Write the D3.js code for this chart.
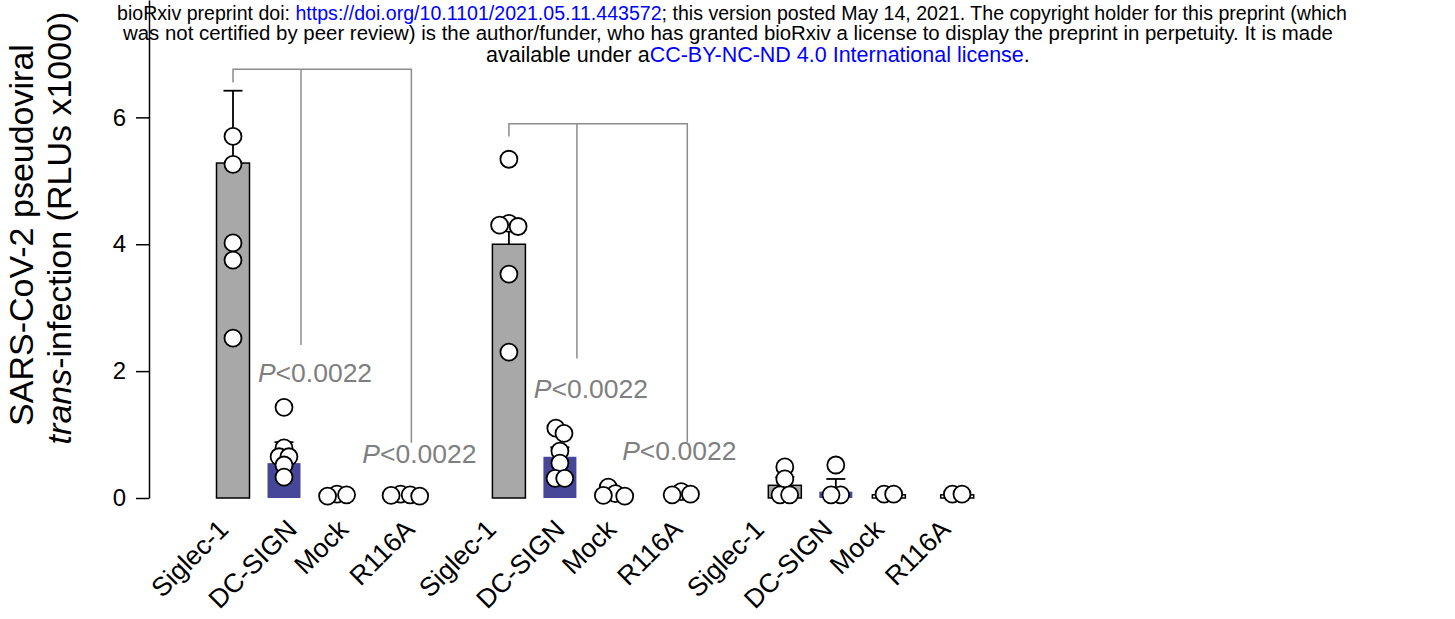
<!DOCTYPE html>
<html>
<head>
<meta charset="utf-8">
<script src="https://cdn.jsdelivr.net/npm/d3@7"></script>
<style>
  body { margin: 0; background: #fff; }
  svg { display: block; font-family: "Liberation Sans", Arial, sans-serif; }
</style>
</head>
<body>
<div id="chart"></div>
<script>

/* Data (RLUs x1000) */
var conditions = ["Siglec-1", "DC-SIGN", "Mock", "R116A"];
var groups = ["A", "B", "C"];

var barValues = [
    [5.28, 0.55, 0.05, 0.04],
    [4.00, 0.65, 0.06, 0.05],
    [0.20, 0.10, 0.05, 0.05]
];

var semValues = [
    [1.14, 0.33, 0.01, 0.01],
    [0.33, 0.15, 0.02, 0.01],
    [0.13, 0.20, 0.01, 0.01]
];

var pointsA = [
    [5.70, 5.26, 4.02, 3.75, 2.52],
    [1.43, 0.79, 0.65, 0.65, 0.52, 0.33],
    [0.06, 0.05, 0.03],
    [0.06, 0.05, 0.04, 0.03]
];
var pointsB = [
    [5.34, 4.33, 4.30, 4.28, 3.53, 2.30],
    [1.10, 1.02, 0.74, 0.55, 0.31, 0.31],
    [0.17, 0.07, 0.04, 0.03],
    [0.10, 0.06, 0.05]
];
var pointsC = [
    [0.49, 0.30, 0.05, 0.05],
    [0.52, 0.05, 0.05],
    [0.06, 0.06],
    [0.06, 0.06]
];
var points = [pointsA, pointsB, pointsC];

var yTicks = [0, 2, 4, 6];

/* significance brackets: group, top, left leg end, mid leg end, right leg end */
var brackets = [
    { group: 0, top: 6.76, left: 6.55, mid: 2.41, right: 0.87 },
    { group: 1, top: 5.90, left: 5.70, mid: 2.20, right: 0.88 }
];
var pLabels = [
    { group: 0, leg: "mid", value: 1.83, text: "<0.0022" },
    { group: 0, leg: "right", value: 0.55, text: "<0.0022" },
    { group: 1, leg: "mid", value: 1.57, text: "<0.0022" },
    { group: 1, leg: "right", value: 0.60, text: "<0.0022" }
];

/* Layout */
var W = 1455, H = 619;
var slotOffsets = [0, 1, 2.04, 3.38],
    groupStride = 5.41,
    barWidth = 33,
    radius = 8.5,
    fontFamily = "'Liberation Sans', Arial, sans-serif";

var colors = { "Siglec-1": "#a8a8a8", "DC-SIGN": "#47479a", "Mock": "#ffffff", "R116A": "#ffffff" };

var svg = d3.select("#chart").append("svg")
    .attr("width", W)
    .attr("height", H);

var x = d3.scaleLinear().domain([0, 1]).range([233, 284]);
var xLabel = d3.scaleLinear().domain([0, 1]).range([249, 298.5]);
var y = d3.scaleLinear().domain([0, 7.85]).range([498, 0]);

function slot(g, c) { return g * groupStride + slotOffsets[c]; }
function xPos(g, c) { return x(slot(g, c)); }

/* Y axis */
var yAxis = svg.append("g")
    .attr("transform", "translate(149,0)")
    .call(d3.axisLeft(y).tickValues(yTicks).tickSize(13).tickSizeOuter(0).tickPadding(10));
yAxis.select(".domain").attr("stroke", "#000").attr("stroke-width", 1.5);
yAxis.selectAll(".tick line").attr("stroke", "#000").attr("stroke-width", 1.5);
yAxis.selectAll(".tick text")
    .attr("font-size", 24)
    .attr("font-family", fontFamily)
    .attr("fill", "#000");

/* Y label */
var yLabel = svg.append("text")
    .attr("transform", "translate(33,235) rotate(-90)")
    .attr("text-anchor", "middle")
    .attr("font-size", 34)
    .attr("font-family", fontFamily)
    .attr("fill", "#000");
yLabel.append("tspan").attr("x", 0).attr("y", 0).text("SARS-CoV-2 pseudoviral");
var l2 = yLabel.append("tspan").attr("x", 7).attr("y", 38);
l2.append("tspan").attr("font-style", "italic").text("trans");
l2.append("tspan").text("-infection (RLUs x1000)");

/* flatten bar data */
var barData = [];
groups.forEach(function(gName, g) {
    conditions.forEach(function(cName, c) {
        barData.push({ g: g, c: c, name: cName, value: barValues[g][c], sem: semValues[g][c] });
    });
});

/* Bars */
svg.append("g").selectAll("rect")
    .data(barData)
    .enter().append("rect")
    .attr("x", function(d) { return xPos(d.g, d.c) - barWidth / 2; })
    .attr("y", function(d) { return y(d.value); })
    .attr("width", barWidth)
    .attr("height", function(d) { return y(0) - y(d.value); })
    .attr("fill", function(d) { return colors[d.name]; })
    .attr("stroke", function(d) { return d.name == "DC-SIGN" ? "none" : "#000"; })
    .attr("stroke-width", 1.5);

/* Error bars */
var err = svg.append("g").selectAll("g")
    .data(barData)
    .enter().append("g")
    .attr("stroke", "#000")
    .attr("stroke-width", 1.8);
err.append("line")
    .attr("x1", function(d) { return xPos(d.g, d.c); })
    .attr("x2", function(d) { return xPos(d.g, d.c); })
    .attr("y1", function(d) { return y(d.value); })
    .attr("y2", function(d) { return y(d.value + d.sem); });
err.append("line")
    .attr("x1", function(d) { return xPos(d.g, d.c) - 9.5; })
    .attr("x2", function(d) { return xPos(d.g, d.c) + 9.5; })
    .attr("y1", function(d) { return y(d.value + d.sem); })
    .attr("y2", function(d) { return y(d.value + d.sem); });

/* Brackets */
var br = svg.append("g")
    .attr("fill", "none")
    .attr("stroke", "#8c8c8c")
    .attr("stroke-width", 1.5);
brackets.forEach(function(b) {
    var xl = xPos(b.group, 0), xm = xPos(b.group, 1) + 17, xr = xPos(b.group, 3) + 6;
    br.append("path")
        .attr("d", "M" + xl + "," + y(b.left) + "V" + y(b.top) + "H" + xr + "V" + y(b.right));
    br.append("line")
        .attr("x1", xm).attr("x2", xm)
        .attr("y1", y(b.top)).attr("y2", y(b.mid));
});

/* P-value labels */
var pl = svg.append("g").selectAll("text")
    .data(pLabels)
    .enter().append("text")
    .attr("x", function(d) {
        if (d.leg == "mid") return xPos(d.group, 1) + 17 + 14;
        return xPos(d.group, 3) + 6 + (d.group == 0 ? 8 : -8);
    })
    .attr("y", function(d) { return y(d.value); })
    .attr("text-anchor", "middle")
    .attr("font-size", 26.5)
    .attr("font-family", fontFamily)
    .attr("fill", "#7f7f7f");
pl.append("tspan").attr("font-style", "italic").text("P");
pl.append("tspan").text(function(d) { return d.text; });

/* Points: dodge overlapping dots with a short force layout */
var dots = [];
points.forEach(function(gp, g) {
    gp.forEach(function(vals, c) {
        vals.forEach(function(v, i) {
            var cx = xPos(g, c);
            dots.push({ cx: cx, x: cx + (i % 2 ? 1 : -1) * i * 0.7, y: y(v), fy: y(v) });
        });
    });
});
var sim = d3.forceSimulation(dots)
    .force("x", d3.forceX(function(d) { return d.cx; }).strength(0.12))
    .force("collide", d3.forceCollide(4.8))
    .stop();
for (var i = 0; i < 300; i++) sim.tick();

svg.append("g").selectAll("circle")
    .data(dots)
    .enter().append("circle")
    .attr("cx", function(d) { return d.x; })
    .attr("cy", function(d) { return d.y; })
    .attr("r", radius)
    .attr("fill", "#fff")
    .attr("stroke", "#000")
    .attr("stroke-width", 1.8);

/* X labels (Siglec-1 sits a bit further left in the original) */
svg.append("g").selectAll("text")
    .data(barData)
    .enter().append("text")
    .attr("transform", function(d) {
        var lx = xLabel(slot(d.g, d.c)) + (d.c == 0 ? -19 : 0);
        return "translate(" + lx + ",531) rotate(-45)";
    })
    .attr("text-anchor", "end")
    .attr("font-size", 26.5)
    .attr("font-family", fontFamily)
    .attr("fill", "#000")
    .text(function(d) { return d.name; });

/* bioRxiv header: each line is fitted to its measured width */
var header = [
    { x0: 117, x1: 1347, y: 20, parts: [["bioRxiv preprint doi: ", "#000"], ["https://doi.org/10.1101/2021.05.11.443572", "#0000ff"], ["; this version posted May 14, 2021. The copyright holder for this preprint (which", "#000"]] },
    { x0: 123, x1: 1334, y: 40, parts: [["was not certified by peer review) is the author/funder, who has granted bioRxiv a license to display the preprint in perpetuity. It is made", "#000"]] },
    { x0: 486, x1: 1030, y: 62, parts: [["available under a", "#000"], ["CC-BY-NC-ND 4.0 International license", "#0000ff"], [".", "#000"]] }
];
var ht = svg.append("g").selectAll("text")
    .data(header)
    .enter().append("text")
    .attr("x", function(d) { return d.x0; })
    .attr("y", function(d) { return d.y; })
    .attr("font-size", 20)
    .attr("font-family", fontFamily);
ht.selectAll("tspan")
    .data(function(d) { return d.parts; })
    .enter().append("tspan")
    .attr("fill", function(d) { return d[1]; })
    .text(function(d) { return d[0]; });
ht.attr("font-size", function(d) {
    var w = this.getComputedTextLength();
    return 20 * (d.x1 - d.x0) / w;
});

</script>
</body>
</html>
